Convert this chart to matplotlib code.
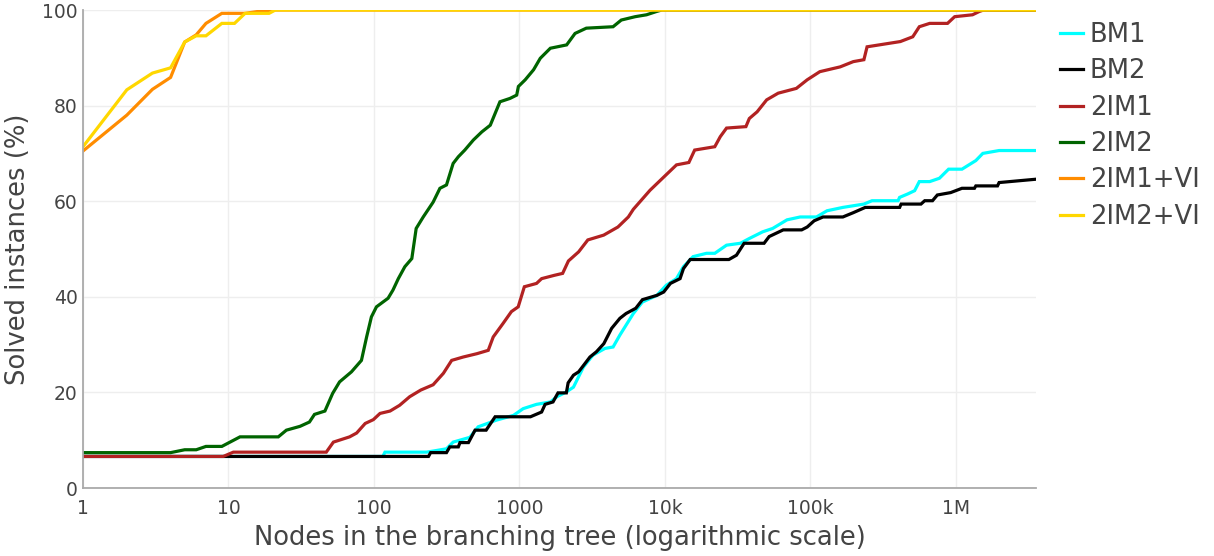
import matplotlib
matplotlib.use("Agg")
import matplotlib.pyplot as plt

# nodes in the branching tree vs. solved instances (%)
bm1_nodes = [1, 115, 119, 230, 315, 350, 456, 520, 695, 910, 1060, 1310, 1630, 1810, 2100,
             2350, 2750, 3200, 3870, 4400, 4900, 6060, 7000, 8800, 10200, 12000, 13400, 15600,
             19300, 22000, 26500, 33000, 38000, 47000, 55000, 69000, 85000, 110000, 130000,
             167000, 233000, 265000, 400000, 410000, 465000, 520000, 560000, 660000, 770000,
             890000, 1.1e6, 1.37e6, 1.53e6, 1.98e6, 3.55e6]
bm1_solved = [6.6, 6.6, 7.5, 7.5, 8.2, 9.6, 10.6, 12.8, 14.2, 15.2, 16.6, 17.5, 18.0, 19.1, 20.1,
              21.1, 25.3, 27.8, 29.2, 29.5, 32.0, 36.5, 38.9, 40.3, 42.4, 43.8, 46.3, 48.4,
              49.1, 49.1, 50.8, 51.2, 52.2, 53.6, 54.3, 56.1, 56.7, 56.7, 58.0,
              58.7, 59.4, 60.1, 60.1, 60.8, 61.5, 62.2, 64.1, 64.1, 64.8,
              66.7, 66.7, 68.5, 70.0, 70.6, 70.6]

bm2_nodes = [1, 237, 245, 315, 332, 380, 390, 446, 495, 590, 680, 1190, 1420, 1500, 1700, 1840,
             2100, 2160, 2350, 2550, 3050, 3380, 3800, 4300, 4900, 5400, 6300, 7000, 8800, 9800,
             10900, 12700, 13400, 14900, 27500, 31000, 35000, 48000, 52000, 65000, 87000, 95000,
             106000, 122000, 167000, 197000, 238000, 410000, 420000, 575000, 610000, 690000,
             745000, 920000, 1.1e6, 1.34e6, 1.37e6, 1.93e6, 1.98e6, 3.55e6]
bm2_solved = [6.6, 6.6, 7.4, 7.4, 8.6, 8.6, 9.5, 9.5, 12.1, 12.1, 14.9, 14.9, 15.9, 17.5, 18.0, 19.9,
              19.9, 22.0, 23.6, 24.3, 27.4, 28.5, 30.2, 33.4, 35.5, 36.5, 37.6, 39.4, 40.3, 41.0,
              42.8, 43.8, 45.9, 47.8, 47.8, 48.7, 51.2, 51.2, 52.6, 54.0, 54.0, 54.6,
              55.9, 56.7, 56.7, 57.6, 58.7, 58.7, 59.4, 59.4, 60.1, 60.1,
              61.3, 61.8, 62.7, 62.7, 63.2, 63.2, 63.9, 64.6]

im1_nodes = [1, 9.2, 10.8, 47, 52.6, 68, 76, 87, 99, 110, 129, 150, 176, 210, 255, 300, 342, 410,
             510, 610, 660, 770, 880, 980, 1080, 1310, 1420, 1740, 1980, 2170, 2550, 2950, 3790,
             4750, 5600, 6060, 7900, 9850, 12000, 14600, 16000, 22000, 24000, 26500, 36000,
             38000, 43000, 50000, 60000, 80000, 95000, 116000, 160000, 197000, 233000, 245000,
             415000, 505000, 560000, 660000, 875000, 980000, 1.3e6, 1.45e6, 1.55e6, 3.55e6]
im1_solved = [6.6, 6.6, 7.5, 7.5, 9.6, 10.7, 11.5, 13.5, 14.3, 15.6, 16.1, 17.3, 19.1, 20.5, 21.6, 24.0, 26.7, 27.4,
              28.1, 28.8, 31.6, 34.4, 36.9, 37.9, 42.1, 42.8, 43.8, 44.5, 44.9, 47.5, 49.4, 51.9, 52.9,
              54.6, 56.7, 58.3, 62.3, 65.1, 67.6, 68.1, 70.7, 71.4, 73.5, 75.3, 75.6,
              77.3, 78.7, 81.2, 82.6, 83.6, 85.4, 87.1, 88.1, 89.2, 89.6, 92.3,
              93.4, 94.4, 96.5, 97.2, 97.2, 98.6, 99.0, 99.7, 100, 100]

im2_nodes = [1, 4, 5, 6, 7, 9, 12, 22, 25, 31, 36, 39, 46, 52, 58, 70, 82, 89, 96, 104, 125, 135,
             147, 163, 182, 195, 218, 255, 284, 315, 350, 380, 421, 482, 551, 630, 734, 860, 957,
             983, 1095, 1250, 1390, 1630, 2110, 2410, 2880, 4400, 5010, 6240, 7470, 8780, 9500, 3.55e6]
im2_solved = [7.4, 7.4, 8.0, 8.0, 8.7, 8.7, 10.7, 10.7, 12.1, 12.9, 13.8, 15.4, 16.1, 19.8, 22.2, 24.3, 26.7, 31.6, 35.8, 37.9, 39.7, 41.4,
              43.8, 46.3, 48.0, 54.3, 56.7, 59.8, 62.7, 63.4, 67.9, 69.3, 70.7, 72.8, 74.5, 75.9, 80.8, 81.5, 82.2,
              84.0, 85.4, 87.5, 89.9, 92.0, 92.7, 95.1, 96.2, 96.5, 97.9, 98.6, 99.0, 99.7, 100, 100]

im1vi_nodes = [1, 2, 3, 4, 5, 6, 7, 9, 13, 16, 21, 3.55e6]
im1vi_solved = [70.5, 78.0, 83.4, 85.9, 93.3, 94.8, 97.2, 99.3, 99.3, 99.7, 100, 100]

im2vi_nodes = [1, 2, 3, 4, 5, 6, 7, 9, 11, 13, 19, 21, 3.55e6]
im2vi_solved = [71.4, 83.3, 86.8, 87.9, 93.3, 94.6, 94.6, 97.2, 97.2, 99.3, 99.3, 100, 100]

series = [
    ("BM1", bm1_nodes, bm1_solved, "#00ffff"),
    ("BM2", bm2_nodes, bm2_solved, "#000000"),
    ("2IM1", im1_nodes, im1_solved, "#b22222"),
    ("2IM2", im2_nodes, im2_solved, "#006400"),
    ("2IM1+VI", im1vi_nodes, im1vi_solved, "#ff8c00"),
    ("2IM2+VI", im2vi_nodes, im2vi_solved, "#ffd700"),
]

tick_vals = [1, 10, 100, 1000, 1e4, 1e5, 1e6]
tick_labels = ["1", "10", "100", "1000", "10k", "100k", "1M"]

plt.rcParams['font.family'] = ['DejaVu Sans']
txt = "#444444"

fig = plt.figure(figsize=(12.14, 5.56), dpi=100)
ax = fig.add_axes([83 / 1214, 1 - 488 / 556, (1036 - 83) / 1214, (488 - 10) / 556])

for name, xs, ys, col in series:
    ax.plot(xs, ys, color=col, lw=2.3, label=name, solid_joinstyle='miter')

ax.set_xscale('log')
ax.set_xlim(1, 3.55e6)
ax.set_ylim(0, 100)
ax.set_xticks(tick_vals)
ax.set_xticklabels(tick_labels)
ax.minorticks_off()
ax.set_yticks([0, 20, 40, 60, 80, 100])
ax.grid(True, color="#eeeeee", lw=1)
ax.set_axisbelow(True)
for s in ['top', 'right']:
    ax.spines[s].set_visible(False)
for s in ['left', 'bottom']:
    ax.spines[s].set_color("#aaaaaa")
    ax.spines[s].set_linewidth(1.3)
ax.tick_params(length=0, labelsize=13.5, colors=txt)
ax.tick_params(axis='x', pad=8)
ax.tick_params(axis='y', pad=4)
ax.set_xlabel("Nodes in the branching tree (logarithmic scale)", fontsize=18.6, color=txt, labelpad=5)
ax.set_ylabel("Solved instances (%)", fontsize=18.6, color=txt, labelpad=8)

leg = fig.legend(loc='upper left', bbox_to_anchor=(1060 / 1214, 1 - 22 / 556), frameon=False,
                 fontsize=18.6, handlelength=0.9, handletextpad=0.25, labelspacing=0.4,
                 borderpad=0, borderaxespad=0)
for t in leg.get_texts():
    t.set_color(txt)

fig.savefig("out.png", dpi=100)
